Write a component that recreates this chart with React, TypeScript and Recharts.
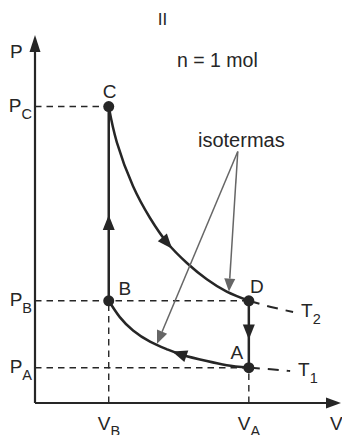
import { ComposedChart, Line, XAxis, YAxis, ReferenceLine, ReferenceDot, Customized } from "recharts";

const FONT = '"Liberation Sans", Arial, Helvetica, sans-serif';
const INK = "#262626";
const GREY = "#666666";

// estados do gás (V, P em unidades arbitrárias)
const VB = 1;
const VA = 2.9;
const PA = 0.345;
const PB = 1;
const PC = 2.9;
const V_MAX = 4.15;
const P_MAX = 3.6;

const V_TICKS = [VB, VA];
const V_TICK_SUBS = ["B", "A"];
const P_TICKS = [PA, PB, PC];
const P_TICK_SUBS = ["A", "B", "C"];

const STATE_NAMES = ["A", "B", "C", "D"];
const STATE_V = [VA, VB, VB, VA];
const STATE_P = [PA, PB, PC, PB];

// isoterma T2 (C -> D) e T1 (B <- A)
const T2_V = [1, 1.11, 1.33, 1.56, 1.79, 2.06, 2.33, 2.6, 2.9];
const T2_P = [2.9, 2.55, 2.12, 1.81, 1.57, 1.37, 1.21, 1.09, 1.0];
const T1_V = [1, 1.15, 1.33, 1.56, 1.79, 2.0, 2.33, 2.6, 2.9];
const T1_P = [1, 0.84, 0.71, 0.6, 0.525, 0.47, 0.41, 0.37, 0.345];

// prolongamentos tracejados
const T2_TAIL_V = [2.9, 3.2, 3.5];
const T2_TAIL_P = [1.0, 0.94, 0.89];
const T1_TAIL_V = [2.9, 3.2, 3.46];
const T1_TAIL_P = [0.345, 0.33, 0.313];

// setas do ciclo: [de, ponta]
const FLOW_ARROWS = [
  [[VB, 1.69], [VB, 1.84]],
  [[1.74, 1.61], [1.86, 1.51]],
  [[VA, 0.76], [VA, 0.62]],
  [[2.06, 0.455], [1.86, 0.505]],
];

// setas de "isotermas"
const ISO_FROM = [2.75, 2.46];
const ISO_TIPS = [[2.63, 1.09], [1.655, 0.58]];

const toPts = (vs: number[], ps: number[]) => vs.map((v, i) => ({ v, p: ps[i] }));

const T2_DATA = toPts(T2_V, T2_P);
const T1_DATA = toPts(T1_V, T1_P);
const T2_TAIL = toPts(T2_TAIL_V, T2_TAIL_P);
const T1_TAIL = toPts(T1_TAIL_V, T1_TAIL_P);
const CB_DATA = toPts([VB, VB], [PC, PB]);
const DA_DATA = toPts([VA, VA], [PB, PA]);

const LABEL_OFFSET: Record<string, [number, number]> = {
  A: [-12, -9],
  B: [16, -6],
  C: [1, -9],
  D: [8, -8],
};

function arrow(opts: { line?: boolean; color: string; width?: number; len: number; half: number; text?: string; tdx?: number; tdy?: number }) {
  return (p: any) => {
    const { x1, y1, x2, y2 } = p;
    const a = Math.atan2(y2 - y1, x2 - x1);
    const c = Math.cos(a);
    const s = Math.sin(a);
    const bx = x2 - opts.len * c;
    const by = y2 - opts.len * s;
    const nx = -s * opts.half;
    const ny = c * opts.half;
    return (
      <g>
        {opts.line && <line x1={x1} y1={y1} x2={bx} y2={by} stroke={opts.color} strokeWidth={opts.width} />}
        <polygon points={`${x2},${y2} ${bx + nx},${by + ny} ${bx - nx},${by - ny}`} fill={opts.color} />
        {opts.text && (
          <text x={x2 + (opts.tdx || 0)} y={y2 + (opts.tdy || 0)} fontSize={19} fill={INK} fontFamily={FONT}>
            {opts.text}
          </text>
        )}
      </g>
    );
  };
}

const PTick = (props: any) => {
  const { x, y, payload } = props;
  const sub = P_TICK_SUBS[P_TICKS.indexOf(payload.value)];
  return (
    <text x={x - 3} y={y + 5} textAnchor="end" fontSize={19} fill={INK} fontFamily={FONT}>
      P<tspan dy={7} fontSize={14.5}>{sub}</tspan>
    </text>
  );
};

const VTick = (props: any) => {
  const { x, y, payload } = props;
  const sub = V_TICK_SUBS[V_TICKS.indexOf(payload.value)];
  return (
    <text x={x - 11} y={y + 27} fontSize={19} fill={INK} fontFamily={FONT}>
      V<tspan dy={6} fontSize={14.5}>{sub}</tspan>
    </text>
  );
};

const stateDot = (name: string) => (p: any) => {
  const [dx, dy] = LABEL_OFFSET[name];
  return (
    <g>
      <circle cx={p.cx} cy={p.cy} r={5.5} fill={INK} />
      <text x={p.cx + dx} y={p.cy + dy} textAnchor="middle" fontSize={19} fill={INK} fontFamily={FONT}>
        {name}
      </text>
    </g>
  );
};

const tempLabel = (sub: string) => (p: any) => (
  <text x={p.cx + 8} y={p.cy + 5} fontSize={19} fill={INK} fontFamily={FONT}>
    T<tspan dy={7} fontSize={14.5}>{sub}</tspan>
  </text>
);

const Notes = () => (
  <g fontFamily={FONT} fill={INK}>
    <text x={162.5} y={25} textAnchor="middle" fontSize={17}>II</text>
    <text x={177} y={67} fontSize={19.5}>n = 1 mol</text>
    <text x={198} y={147} fontSize={20}>isotermas</text>
  </g>
);

const dash = { stroke: INK, strokeWidth: 1.4, strokeDasharray: "6.5 5" };

export default function App() {
  return (
    <div style={{ position: "absolute", left: 0, top: 0 }}>
      <ComposedChart width={342} height={435} margin={{ top: 35, right: 1, bottom: 0, left: 0 }}>
        <XAxis
          type="number"
          dataKey="v"
          domain={[0, V_MAX]}
          allowDataOverflow
          ticks={V_TICKS}
          interval={0}
          tick={<VTick />}
          tickLine={false}
          axisLine={false}
          tickSize={0}
          tickMargin={0}
          height={32}
        />
        <YAxis
          type="number"
          dataKey="p"
          domain={[0, P_MAX]}
          allowDataOverflow
          ticks={P_TICKS}
          interval={0}
          tick={<PTick />}
          tickLine={false}
          axisLine={false}
          tickSize={0}
          tickMargin={0}
          width={35}
        />

        {/* linhas de chamada */}
        <ReferenceLine segment={[{ x: 0, y: PC }, { x: VB, y: PC }]} ifOverflow="visible" {...dash} />
        <ReferenceLine segment={[{ x: 0, y: PB }, { x: VA, y: PB }]} ifOverflow="visible" {...dash} />
        <ReferenceLine segment={[{ x: 0, y: PA }, { x: VA, y: PA }]} ifOverflow="visible" {...dash} />
        <ReferenceLine segment={[{ x: VB, y: 0 }, { x: VB, y: PB }]} ifOverflow="visible" {...dash} />
        <ReferenceLine segment={[{ x: VA, y: 0 }, { x: VA, y: PA }]} ifOverflow="visible" {...dash} />

        {/* eixos com setas */}
        <ReferenceLine
          segment={[{ x: 0, y: 0 }, { x: V_MAX, y: 0 }]}
          ifOverflow="visible"
          shape={arrow({ line: true, color: INK, width: 2.2, len: 15, half: 5.5, text: "V", tdx: -11, tdy: 27 })}
        />
        <ReferenceLine
          segment={[{ x: 0, y: 0 }, { x: 0, y: P_MAX }]}
          ifOverflow="visible"
          shape={arrow({ line: true, color: INK, width: 2.2, len: 17, half: 5.5, text: "P", tdx: -25, tdy: 23 })}
        />

        <Line data={T2_TAIL} dataKey="p" type="monotone" stroke={INK} strokeWidth={2} strokeDasharray="11 8" dot={false} activeDot={false} isAnimationActive={false} />
        <Line data={T1_TAIL} dataKey="p" type="monotone" stroke={INK} strokeWidth={2} strokeDasharray="11 8" dot={false} activeDot={false} isAnimationActive={false} />
        <Line data={T2_DATA} dataKey="p" type="natural" stroke={INK} strokeWidth={2.5} dot={false} activeDot={false} isAnimationActive={false} />
        <Line data={T1_DATA} dataKey="p" type="natural" stroke={INK} strokeWidth={2.5} dot={false} activeDot={false} isAnimationActive={false} />
        <Line data={CB_DATA} dataKey="p" type="linear" stroke={INK} strokeWidth={2.5} dot={false} activeDot={false} isAnimationActive={false} />
        <Line data={DA_DATA} dataKey="p" type="linear" stroke={INK} strokeWidth={2.5} dot={false} activeDot={false} isAnimationActive={false} />

        {FLOW_ARROWS.map(([from, tip], i) => (
          <ReferenceLine
            key={`flow-${i}`}
            segment={[{ x: from[0], y: from[1] }, { x: tip[0], y: tip[1] }]}
            ifOverflow="visible"
            shape={arrow({ color: INK, len: 15, half: 6 })}
          />
        ))}

        {ISO_TIPS.map((tip, i) => (
          <ReferenceLine
            key={`iso-${i}`}
            segment={[{ x: ISO_FROM[0], y: ISO_FROM[1] }, { x: tip[0], y: tip[1] }]}
            ifOverflow="visible"
            shape={arrow({ line: true, color: GREY, width: 1.5, len: 13, half: 5.5 })}
          />
        ))}

        {STATE_NAMES.map((name, i) => (
          <ReferenceDot key={name} x={STATE_V[i]} y={STATE_P[i]} r={5.5} ifOverflow="visible" shape={stateDot(name)} />
        ))}

        <ReferenceDot x={T2_TAIL_V[T2_TAIL_V.length - 1]} y={T2_TAIL_P[T2_TAIL_P.length - 1]} r={0} ifOverflow="visible" shape={tempLabel("2")} />
        <ReferenceDot x={T1_TAIL_V[T1_TAIL_V.length - 1]} y={T1_TAIL_P[T1_TAIL_P.length - 1]} r={0} ifOverflow="visible" shape={tempLabel("1")} />

        <Customized component={Notes} />
      </ComposedChart>
    </div>
  );
}
